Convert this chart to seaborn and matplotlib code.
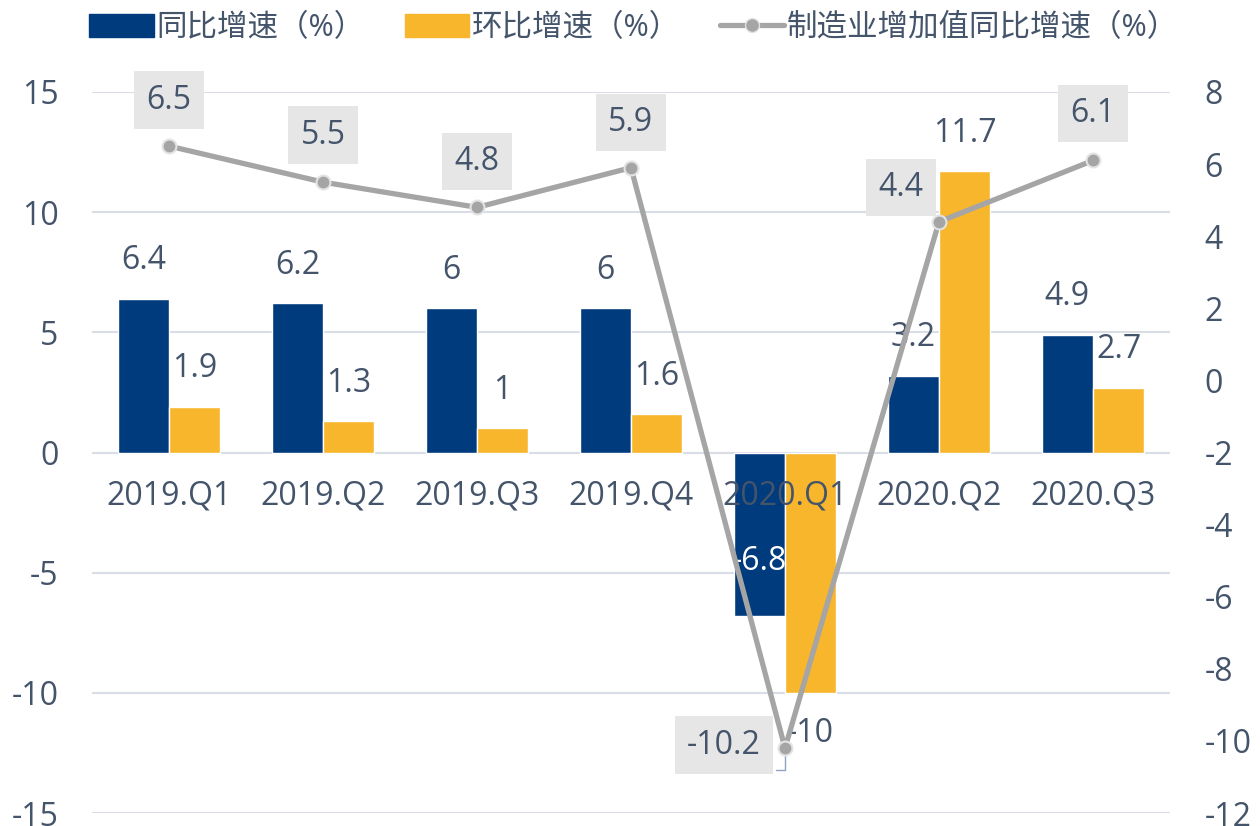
import numpy as np
import pandas as pd
import matplotlib.pyplot as plt
import matplotlib.patches as mpatches
import matplotlib.lines as mlines
import seaborn as sns

# data
quarters = ['2019.Q1', '2019.Q2', '2019.Q3', '2019.Q4', '2020.Q1', '2020.Q2', '2020.Q3']
yoy = [6.4, 6.2, 6.0, 6.0, -6.8, 3.2, 4.9]
qoq = [1.9, 1.3, 1.0, 1.6, -10.0, 11.7, 2.7]
mfg = [6.5, 5.5, 4.8, 5.9, -10.2, 4.4, 6.1]
yoy_txt = ['6.4', '6.2', '6', '6', '-6.8', '3.2', '4.9']
qoq_txt = ['1.9', '1.3', '1', '1.6', '-10', '11.7', '2.7']
mfg_txt = ['6.5', '5.5', '4.8', '5.9', '-10.2', '4.4', '6.1']
names = ['同比增速（%）', '环比增速（%）', '制造业增加值同比增速（%）']

navy = '#003B7D'
orange = '#F8B62D'
gray = '#A5A5A5'
txt = '#44546A'
fs = 23

sns.set_style('white')
plt.rcParams['font.family'] = ['Open Sans', 'Noto Sans CJK SC', 'DejaVu Sans']
plt.rcParams['axes.unicode_minus'] = False

df = pd.DataFrame({
    'quarter': quarters * 2,
    'value': yoy + qoq,
    'series': [names[0]] * 7 + [names[1]] * 7,
})

fig = plt.figure(figsize=(12.6, 8.26), dpi=100)
ax = fig.add_axes([92 / 1260, 13 / 826, 1078 / 1260, 721 / 826])

sns.barplot(data=df, x='quarter', y='value', hue='series', palette=[navy, orange],
            width=0.667, gap=0, saturation=1, ax=ax, legend=False)

ax.set_xlim(-0.5, 6.5)
ax.set_ylim(-15, 15)
ax.set_yticks([15, 10, 5, 0, -5, -10, -15])
ax.set_xticks([])
ax.set_xlabel('')
ax.set_ylabel('')
ax.grid(axis='y', color='#D9DEE6', linewidth=1.5)
ax.set_axisbelow(True)
for s in ax.spines.values():
    s.set_visible(False)
ax.tick_params(axis='y', length=0, pad=24, labelsize=fs, labelcolor=txt)

# category labels inside the plot
for i, q in enumerate(quarters):
    ax.text(i, -1.8, q, ha='center', va='center', fontsize=fs, color=txt)

# bar labels
bw = 0.667 / 2
for i in range(7):
    for val, lab, dx in [(yoy[i], yoy_txt[i], -bw / 2), (qoq[i], qoq_txt[i], bw / 2)]:
        if val >= 0:
            ax.annotate(lab, (i + dx, val), xytext=(0, 38), textcoords='offset pixels',
                        ha='center', va='center', fontsize=fs, color=txt)
        elif lab == '-6.8':
            ax.annotate(lab, (i + dx, val), xytext=(0, 54), textcoords='offset pixels',
                        ha='center', va='center', fontsize=fs, color='white')
        else:
            ax.annotate(lab, (i + dx, val), xytext=(0, -41), textcoords='offset pixels',
                        ha='center', va='center', fontsize=fs, color=txt)

# line on right axis
ax2 = ax.twinx()
sns.lineplot(x=np.arange(7), y=mfg, ax=ax2, color=gray, linewidth=3.8, marker='o',
             markersize=10, markerfacecolor=gray, markeredgecolor='#E3E3E3',
             markeredgewidth=1.5, zorder=5)
ax2.set_ylim(-12, 8)
ax2.set_yticks(np.arange(-12, 9, 2))
ax2.set_xlim(-0.5, 6.5)
for s in ax2.spines.values():
    s.set_visible(False)
ax2.tick_params(axis='y', length=0, pad=25, labelsize=fs, labelcolor=txt)
ax2.set_ylabel('')

box = dict(boxstyle='square,pad=0.38', facecolor='#E6E6E6', edgecolor='none')
offsets = [(0, 46), (0, 47), (0, 46), (0, 45), (-61, 3), (-38, 34), (0, 47)]
for i in range(7):
    ax2.annotate(mfg_txt[i], (i, mfg[i]), xytext=offsets[i], textcoords='offset pixels',
                 ha='center', va='center', fontsize=fs, color=txt, bbox=box,
                 zorder=6, annotation_clip=False)
# leader line for -10.2
ax2.annotate('', (4, mfg[4]), xytext=(-12, -22), textcoords='offset pixels',
             arrowprops=dict(arrowstyle='-', color='#8FA3BF', lw=1,
                             connectionstyle='angle,angleA=0,angleB=90,rad=0'))

# legend
handles = [
    mpatches.Patch(color=navy),
    mpatches.Patch(color=orange),
    mlines.Line2D([], [], color=gray, linewidth=3.8, marker='o', markersize=10,
                  markerfacecolor=gray, markeredgecolor='#E3E3E3'),
]
fig.legend(handles, names, loc='center', bbox_to_anchor=(0.503, 1 - 28 / 826), ncol=3,
           frameon=False, fontsize=22, labelcolor=txt, handlelength=2.1,
           handleheight=0.8, handletextpad=0.1, columnspacing=1.3)

fig.savefig('out.png', dpi=100)
